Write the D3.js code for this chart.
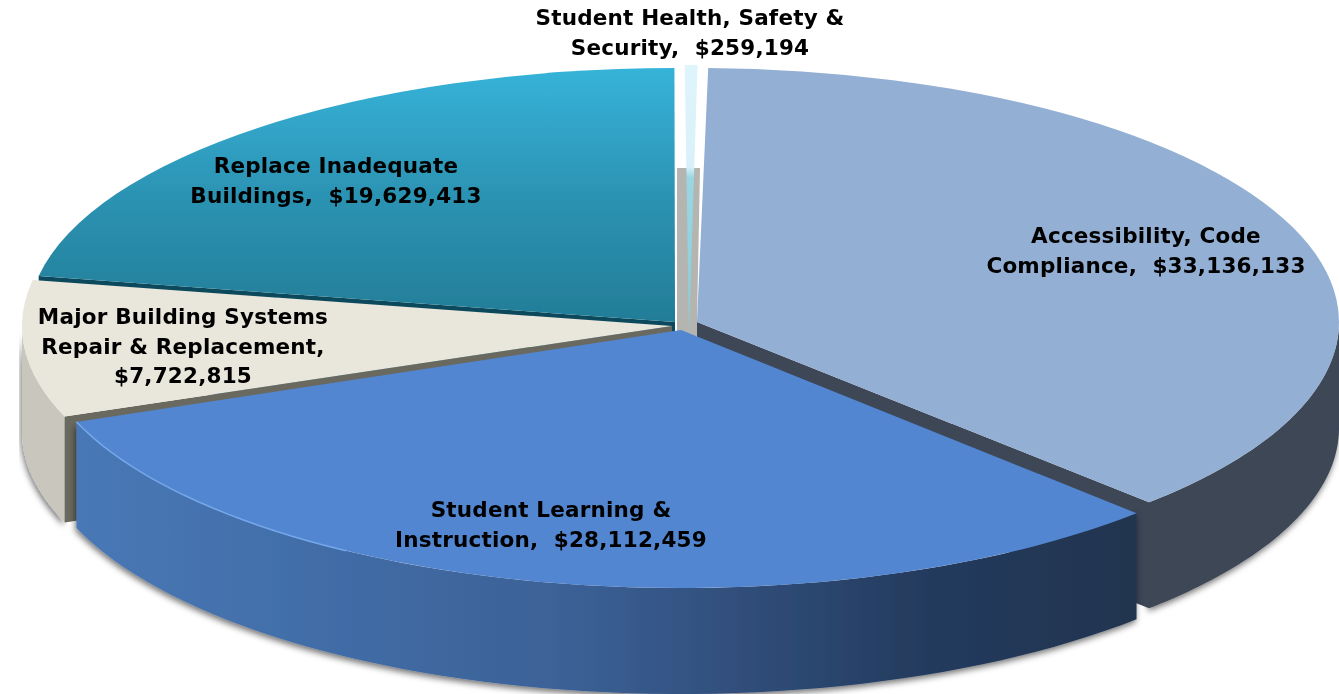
<!DOCTYPE html>
<html>
<head>
<meta charset="utf-8">
<script src="https://cdn.jsdelivr.net/npm/d3@7"></script>
<style>
  html, body { margin: 0; padding: 0; background: #fff; overflow: hidden; }
  text { font-family: "DejaVu Sans", sans-serif; font-weight: bold; fill: #000; white-space: pre; letter-spacing: 0.2px; }
</style>
</head>
<body>
<div class="chart-container"></div>
<script>
const categories = [
    'Accessibility, Code Compliance',
    'Student Learning & Instruction',
    'Major Building Systems Repair & Replacement',
    'Replace Inadequate Buildings',
    'Student Health, Safety & Security'
]
const values = [33136133, 28112459, 7722815, 19629413, 259194]
const labelLines = [
    ['Accessibility, Code', 'Compliance,  $33,136,133'],
    ['Student Learning &', 'Instruction,  $28,112,459'],
    ['Major Building Systems', 'Repair & Replacement,', '$7,722,815'],
    ['Replace Inadequate', 'Buildings,  $19,629,413'],
    ['Student Health, Safety &', 'Security,  $259,194']
]

// per slice placement of the exploded 3d pie, same order as categories
const apex = [[697, 322], [681, 330], [672, 326], [675, 322], [689, 333]]
const radii = [[642, 254], [647, 258], [650, 254], [647, 254], [700, 268]]
const turn = [0, 0, 0, 0, -0.3 * Math.PI / 180]
const labelPos = [[1146, 243], [551, 517], [183, 324], [336, 173], [690, 25]]

const width = 1339, height = 694, depth = 106, fontSize = 21.5, lineGap = 29.5
const rotate = 1 * Math.PI / 180

const svg = d3.select('.chart-container').append('svg')
    .attr('width', width)
    .attr('height', height)
    .style('display', 'block')

const defs = svg.append('defs')

const soft = defs.append('filter').attr('id', 'soft')
soft.append('feGaussianBlur').attr('stdDeviation', 0.5)

const textSoft = defs.append('filter').attr('id', 'textSoft')
textSoft.append('feGaussianBlur').attr('stdDeviation', 0.35)

const shadow = defs.append('filter').attr('id', 'shadow')
    .attr('x', '-5%').attr('y', '-5%').attr('width', '110%').attr('height', '115%')
shadow.append('feDropShadow')
    .attr('dx', -1).attr('dy', 3).attr('stdDeviation', 3)
    .attr('flood-color', '#000').attr('flood-opacity', 0.55)

function gradient(id, stops, horizontal) {
    const g = defs.append('linearGradient').attr('id', id)
        .attr('x1', 0).attr('y1', 0)
        .attr('x2', horizontal ? 1 : 0).attr('y2', horizontal ? 0 : 1)
    stops.forEach(s => g.append('stop').attr('offset', s[0]).attr('stop-color', s[1]))
}
gradient('replaceTop', [[0, '#36b3d9'], [0.5, '#2c93b3'], [1, '#237d97']])
gradient('learningSide', [[0, '#4878b6'], [0.45, '#3c6298'], [0.8, '#243b5e'], [1, '#20344f']], true)
gradient('healthTop', [[0, '#dff4fb'], [0.38, '#d8f1f9'], [0.42, '#9bd6e2'], [1, '#86cfdc']])

const topFill = ['#93afd4', '#5386d1', '#e9e7dc', 'url(#replaceTop)', 'url(#healthTop)']
const sideFill = ['#3c4657', 'url(#learningSide)', '#c9c7bd', '#0f4a5c', '#b4b4b0']
const cutFill = ['#3c4657', '#213655', '#69695f', '#0f4a5c', '#b4b4b0']

const pie = d3.pie().sort(null).startAngle(rotate).endAngle(rotate + 2 * Math.PI)
const slices = pie(values).map((d, i) => ({
    ...d,
    startAngle: d.startAngle + turn[i],
    endAngle: d.endAngle + turn[i],
    index: i
}))

const rim = (i, a) => [
    apex[i][0] + radii[i][0] * Math.sin(a),
    apex[i][1] - radii[i][1] * Math.cos(a)
]
const line = d3.line()
const lower = p => [p[0], p[1] + depth]

function rimPoints(d, from, to) {
    const a0 = from === undefined ? d.startAngle : from
    const a1 = to === undefined ? d.endAngle : to
    return d3.range(0, 61).map(k => rim(d.index, a0 + (a1 - a0) * k / 60))
}

const root = svg.append('g').attr('filter', 'url(#soft)')

// grey inner walls seen through the gap behind the small slice
const wallTop = apex[3][1] - radii[3][1] + depth - 6
root.append('path')
    .attr('fill', sideFill[4])
    .attr('d', line([
        [apex[3][0] + 2, wallTop], [apex[0][0] + 3, wallTop],
        apex[0], [apex[0][0], apex[1][1] + 6], [apex[3][0] + 2, apex[1][1] + 6]
    ]) + 'Z')

function drawTop(d) {
    const i = d.index
    const arc = d3.arc().innerRadius(0).outerRadius(radii[i][0])
    root.append('path')
        .attr('class', 'top')
        .attr('transform', `translate(${apex[i][0]},${apex[i][1]}) scale(1,${radii[i][1] / radii[i][0]})`)
        .attr('fill', topFill[i])
        .attr('d', arc(d))
}

function drawCut(i, a) {
    const p = rim(i, a)
    root.append('path')
        .attr('fill', cutFill[i])
        .attr('d', line([apex[i], p, lower(p), lower(apex[i])]) + 'Z')
}

// only the front half of the rim has a visible wall
function drawSide(d) {
    const from = Math.max(d.startAngle, Math.PI / 2)
    const to = Math.min(d.endAngle, 3 * Math.PI / 2)
    const pts = rimPoints(d, from, to)
    root.append('path')
        .attr('filter', 'url(#shadow)')
        .attr('fill', sideFill[d.index])
        .attr('d', line(pts.concat(pts.map(lower).reverse())) + 'Z')
}

// back to front
drawTop(slices[4])

drawCut(3, slices[3].startAngle)
drawTop(slices[3])

drawSide(slices[0])
drawCut(0, slices[0].endAngle)
drawTop(slices[0])

drawSide(slices[2])
drawCut(2, slices[2].startAngle)
drawTop(slices[2])

drawSide(slices[1])
drawTop(slices[1])

// light edge on the left rim of the blue slice
const edge = rimPoints(slices[1]).slice(40)
root.append('path')
    .attr('fill', 'none')
    .attr('stroke', '#74a8ea')
    .attr('stroke-width', 1.5)
    .attr('d', line(edge))

const labels = svg.append('g').attr('filter', 'url(#textSoft)')
labelLines.forEach((lines, i) => {
    lines.forEach((t, k) => {
        labels.append('text')
            .attr('x', labelPos[i][0])
            .attr('y', labelPos[i][1] + k * lineGap)
            .attr('text-anchor', 'middle')
            .attr('font-size', fontSize)
            .text(t)
    })
})
</script>
</body>
</html>
